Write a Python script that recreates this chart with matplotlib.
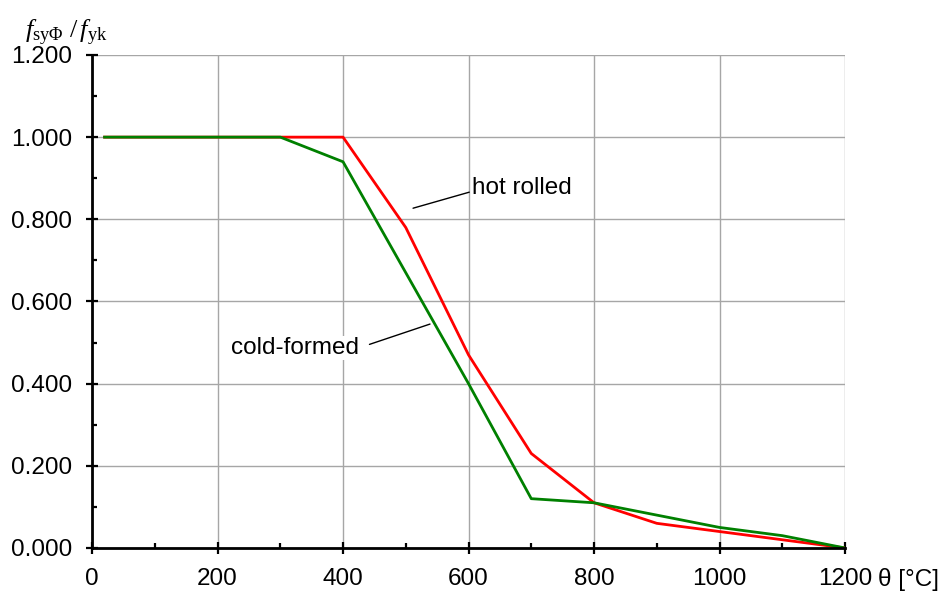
import matplotlib
matplotlib.use("Agg")
import matplotlib.pyplot as plt
from matplotlib.ticker import MultipleLocator, FormatStrFormatter

plt.rcParams['font.family'] = ['Liberation Sans', 'DejaVu Sans']
plt.rcParams['mathtext.fontset'] = 'custom'
plt.rcParams['mathtext.rm'] = 'Liberation Serif'
plt.rcParams['mathtext.it'] = 'Liberation Serif:italic'

temps = [20, 100, 200, 300, 400, 500, 600, 700, 800, 900, 1000, 1100, 1200]
hot_rolled = [1.0, 1.0, 1.0, 1.0, 1.0, 0.78, 0.47, 0.23, 0.11, 0.06, 0.04, 0.02, 0.0]
cold_formed = [1.0, 1.0, 1.0, 1.0, 0.94, 0.67, 0.40, 0.12, 0.11, 0.08, 0.05, 0.03, 0.0]

FS = 17.5

fig = plt.figure(figsize=(9.41, 5.91), dpi=100)
ax = fig.add_axes([0.0978, 0.0728, 0.8002, 0.8342])

ax.plot(temps, hot_rolled, color='#ff0000', lw=2, zorder=3)
ax.plot(temps, cold_formed, color='#008000', lw=2, zorder=3)

ax.set_xlim(0, 1200)
ax.set_ylim(0, 1.2)
ax.xaxis.set_major_locator(MultipleLocator(200))
ax.xaxis.set_minor_locator(MultipleLocator(100))
ax.yaxis.set_major_locator(MultipleLocator(0.2))
ax.yaxis.set_minor_locator(MultipleLocator(0.1))
ax.yaxis.set_major_formatter(FormatStrFormatter('%.3f'))

ax.grid(True, which='major', color='#a6a6a6', lw=1)
ax.set_axisbelow(True)
for s in ['top', 'right']:
    ax.spines[s].set_visible(False)
for s in ['left', 'bottom']:
    ax.spines[s].set_linewidth(2)
    ax.spines[s].set_zorder(4)

ax.tick_params(which='major', direction='inout', length=9, width=1.6, labelsize=FS)
ax.tick_params(axis='x', which='major', pad=10)
ax.tick_params(axis='y', which='major', pad=10)
ax.tick_params(which='minor', direction='in', length=3.6, width=1.6)

# annotations
ax.annotate('hot rolled', xy=(511.6, 0.827), xytext=(605.6, 0.876),
            fontsize=FS, va='center', ha='left',
            arrowprops=dict(arrowstyle='-', color='black', lw=1, shrinkA=0, shrinkB=0,
                            relpos=(0, 0.35)))
ax.annotate('cold-formed', xy=(538.6, 0.545), xytext=(425.5, 0.487),
            fontsize=FS, va='center', ha='right',
            bbox=dict(boxstyle='square,pad=0.05', fc='white', ec='none'),
            arrowprops=dict(arrowstyle='-', color='black', lw=1, shrinkA=7, shrinkB=0,
                            relpos=(1, 0.5)))

fig.text(0.027, 0.944, r'$f_{\mathrm{sy\Phi}}\ /\,f_{\mathrm{yk}}$', fontsize=19, va='center', ha='left')
fig.text(878 / 941, 5 / 591, 'θ [°C]', fontsize=FS, va='baseline', ha='left')

fig.savefig('out.png', dpi=100)
